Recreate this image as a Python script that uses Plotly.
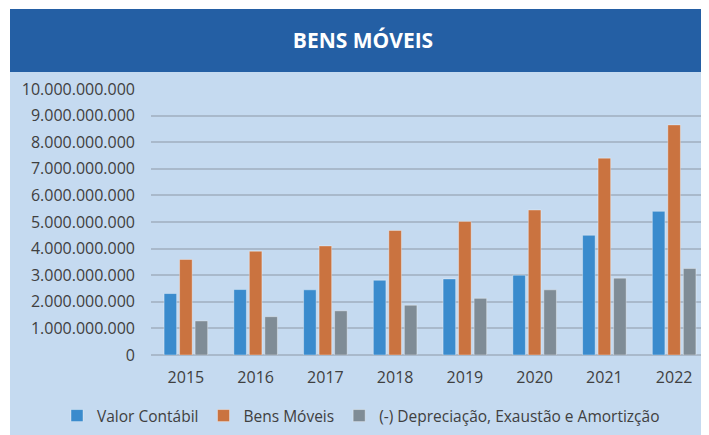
import plotly.graph_objects as go

years = ["2015", "2016", "2017", "2018", "2019", "2020", "2021", "2022"]
valor_contabil = [2.31e9, 2.46e9, 2.45e9, 2.81e9, 2.86e9, 3.00e9, 4.50e9, 5.40e9]
bens_moveis = [3.59e9, 3.90e9, 4.10e9, 4.68e9, 5.02e9, 5.45e9, 7.40e9, 8.65e9]
depreciacao = [1.28e9, 1.44e9, 1.66e9, 1.87e9, 2.13e9, 2.45e9, 2.89e9, 3.25e9]

series_names = ["Valor Contábil", "Bens Móveis", "(-) Depreciação, Exaustão e Amortizção"]
colors = ["#3A8BCD", "#CA7340", "#7F8C96"]
y_ticks = [0, 1e9, 2e9, 3e9, 4e9, 5e9, 6e9, 7e9, 8e9, 9e9, 1e10]

# page body margin offsets the figure by 8px; size figure to fill the rest
OFF = 8
W, H = 709 - OFF, 435 - OFF
L, T = 151 - OFF, 89 - OFF
B = H - (355 - OFF)
R = 0
pw = W - L - R
ph = H - T - B

def px_x(p):  # reference screen px -> paper x
    return (p - OFF - L) / pw

def px_y(p):  # reference screen px -> paper y
    return (H - B - (p - OFF)) / ph

fig = go.Figure()
for name, vals, col in zip(series_names, [valor_contabil, bens_moveis, depreciacao], colors):
    fig.add_trace(go.Bar(
        x=years, y=vals, name=name,
        marker=dict(color=col, line=dict(color="rgba(255,255,255,0.35)", width=1)),
    ))

shapes = [
    dict(type="rect", xref="paper", yref="paper", layer="below",
         x0=px_x(10), x1=px_x(715), y0=px_y(72), y1=px_y(440),
         fillcolor="#C5DAF0", line=dict(width=0)),
    dict(type="rect", xref="paper", yref="paper", layer="below",
         x0=px_x(10), x1=px_x(715), y0=px_y(72), y1=px_y(9),
         fillcolor="#245FA4", line=dict(width=0)),
]

fig.update_layout(
    width=W, height=H,
    margin=dict(l=L, r=R, t=T, b=B, autoexpand=False),
    paper_bgcolor="white",
    plot_bgcolor="rgba(0,0,0,0)",
    separators=",.",
    font=dict(family="Open Sans", size=16, color="#404040"),
    barmode="group",
    bargap=0.333,
    bargroupgap=0.19,
    shapes=shapes,
    title=dict(text="<b>BENS MÓVEIS</b>", xref="container", yref="container",
               x=(363 - OFF) / W, y=1 - (40.5 - OFF) / H, xanchor="center", yanchor="middle",
               font=dict(family="Open Sans", size=21, color="white")),
    legend=dict(orientation="h", xref="paper", yref="paper",
                x=px_x(57), y=px_y(416), xanchor="left", yanchor="middle",
                bgcolor="rgba(0,0,0,0)", font=dict(size=15.5, color="#404040"),
                traceorder="normal"),
    xaxis=dict(showgrid=False, showline=False, ticks="", ticklabelstandoff=11),
    yaxis=dict(range=[0, 1e10], tickvals=y_ticks, tickformat=",.0f",
               showgrid=True, gridcolor="#A9B9CB", gridwidth=1.5,
               zeroline=True, zerolinecolor="#A9B9CB", zerolinewidth=1.5,
               showline=False, ticks="", ticklabelstandoff=15),
)

fig.write_html("out.html")
